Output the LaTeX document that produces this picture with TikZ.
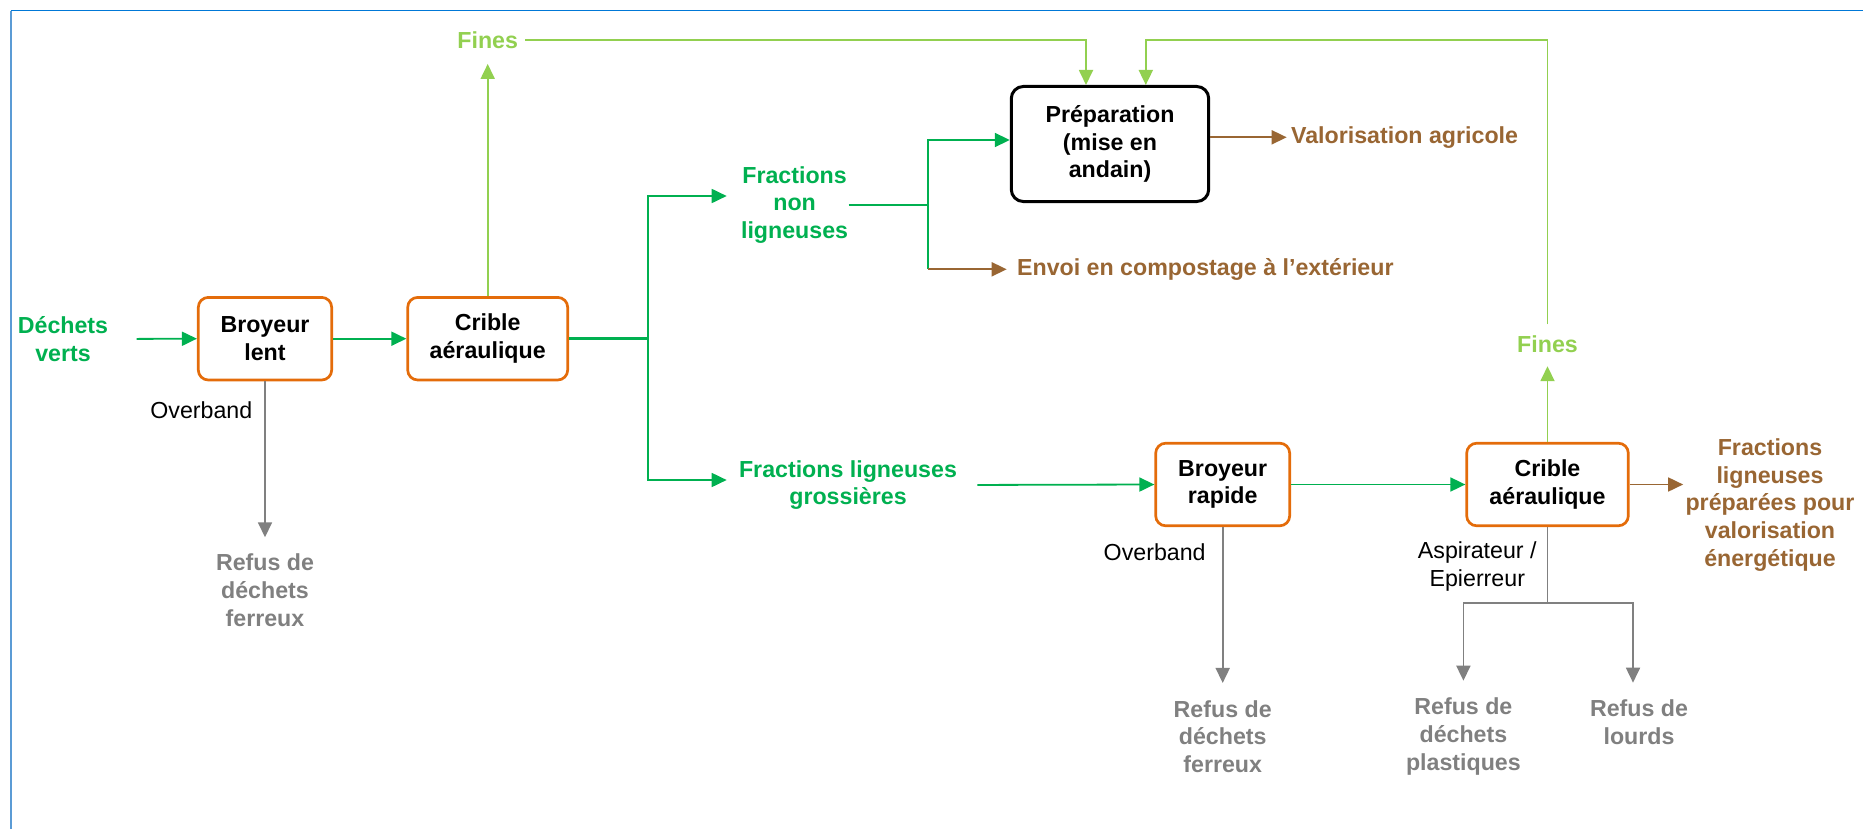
\documentclass[tikz,border=0pt]{standalone}
\usepackage{fontspec}
\setmainfont{Liberation Sans}
\usepackage{xcolor}
\usepackage{tikz}
\usetikzlibrary{arrows.meta}

\definecolor{vertflux}{RGB}{0,176,80}
\definecolor{vertfines}{RGB}{146,208,80}
\definecolor{brun}{RGB}{153,102,51}
\definecolor{orangebox}{RGB}{228,108,10}
\definecolor{gris}{RGB}{128,128,128}
\definecolor{cadreh}{RGB}{0,120,215}
\definecolor{cadrev}{RGB}{91,155,213}

\begin{document}
\begin{tikzpicture}[
x=0.5pt, y=-0.5pt,
every node/.style={align=center, inner sep=0pt, font=\fontsize{11.6}{13.9}\selectfont\bfseries},
machine/.style={draw=orangebox, line width=1.35pt, rounded corners=5pt, fill=white, minimum height=41.3pt},
prepbox/.style={draw=black, line width=1.5pt, rounded corners=6pt, fill=white, minimum width=98.7pt, minimum height=57.5pt},
lbl/.style={text=#1},
note/.style={font=\fontsize{11.6}{13.9}\selectfont},
arrow/.style={-{Triangle[length=7.5pt,width=7pt]}, line width=0.9pt},
line/.style={line width=0.9pt}
]

\useasboundingbox (0,0) rectangle (1863,829);
\draw[cadreh, line width=0.7pt] (10.7,10.7) -- (1863,10.7);
\draw[cadrev, line width=0.85pt] (10.7,10.7) -- (10.7,829);

\node[lbl=vertflux] (dechets) at (63,339) {Déchets\\verts};
\node[machine, minimum width=66.7pt] (lent) at (265,338.7) {Broyeur\\lent};
\node[machine, minimum width=80pt] (crible1) at (487.7,338.7) {Crible\\aéraulique};
\node[lbl=vertfines] (fines1) at (487.7,40) {Fines};
\node[lbl=vertflux] (fnl) at (794.6,205) {Fractions\\non\\ligneuses};
\node[lbl=vertflux] (flg) at (848,485) {Fractions ligneuses\\grossières};
\node[prepbox] (prep) at (1110,144) {Préparation\\(mise en\\andain)};
\node[lbl=brun, anchor=west] (valag) at (1290.7,137.3) {Valorisation agricole};
\node[lbl=brun, anchor=west] (envoi) at (1016.7,269.3) {Envoi en compostage à l’extérieur};
\node[machine, minimum width=67pt] (rapide) at (1222.7,484.5) {Broyeur\\rapide};
\node[machine, minimum width=80.8pt] (crible2) at (1547.5,484.5) {Crible\\aéraulique};
\node[lbl=vertfines] (fines2) at (1547.5,344.3) {Fines};
\node[lbl=brun] (fpv) at (1770,505) {Fractions\\ligneuses\\préparées pour\\valorisation\\énergétique};

\node[note, anchor=east] (over1) at (252.7,410) {Overband};
\node[lbl=gris] (refus1) at (265,590) {Refus de\\déchets\\ferreux};
\node[note, anchor=east] (over2) at (1206,552.3) {Overband};
\node[lbl=gris] (refus2) at (1222.7,736.7) {Refus de\\déchets\\ferreux};
\node[note, anchor=east] (aspi) at (1537,566.5) {Aspirateur /\\Epierreur};
\node[lbl=gris] (refus3) at (1463.4,736.7) {Refus de\\déchets\\plastiques};
\node[lbl=gris] (refus4) at (1639,722.5) {Refus de\\lourds};

\coordinate (split) at (647.8,338.7);
\coordinate (jn) at (928,205);
\coordinate (tri) at (1547.5,603.3);

\draw[arrow, vertflux, shorten <=14pt] (dechets.east) -- (lent.west);
\draw[arrow, vertflux] (lent) -- (crible1);
\draw[vertflux, line width=1.4pt] (crible1.east) -- (split);
\draw[arrow, vertflux, shorten >=7pt] (split) |- ([yshift=4.5pt]fnl.west);
\draw[arrow, vertflux, shorten >=6pt] (split) |- ([yshift=2.5pt]flg.west);

\draw[line, vertflux] (fnl.east) -- (jn);
\draw[arrow, vertflux] (jn) |- ([yshift=2pt]prep.west);
\draw[line, vertflux] (jn) -- (jn |- envoi.west);
\draw[arrow, brun, shorten >=5pt] (jn |- envoi.west) -- (envoi.west);
\draw[arrow, brun, shorten >=2pt] (prep.east |- valag.west) -- (valag.west);

\draw[arrow, vertfines, shorten >=7.5pt] (crible1.north) -- (fines1.south);
\draw[arrow, vertfines, shorten <=3.5pt] (fines1.east) -| ([xshift=-12pt]prep.north);
\draw[arrow, vertfines, shorten >=6.5pt] (crible2.north) -- (fines2.south);
\draw[arrow, vertfines, shorten <=5.5pt] (fines2.north) -- (fines2.north |- fines1.east) -| ([xshift=17.9pt]prep.north);

\draw[arrow, vertflux, shorten <=10pt] (flg.east) -- (rapide.west);
\draw[arrow, vertflux] (rapide) -- (crible2);
\draw[arrow, brun, shorten >=1pt] (crible2.east) -- (crible2.east -| fpv.west);

\draw[arrow, gris, shorten >=8pt] (lent.south) -- (refus1.north);
\draw[arrow, gris, shorten >=8.5pt] (rapide.south) -- (refus2.north);
\draw[line, gris] (crible2.south) -- (tri);
\draw[arrow, gris, shorten >=8.5pt] (tri) -| (refus3.north);
\draw[arrow, gris, shorten >=8.5pt] (tri) -| ([xshift=-3pt]refus4.north);

\end{tikzpicture}
\end{document}
